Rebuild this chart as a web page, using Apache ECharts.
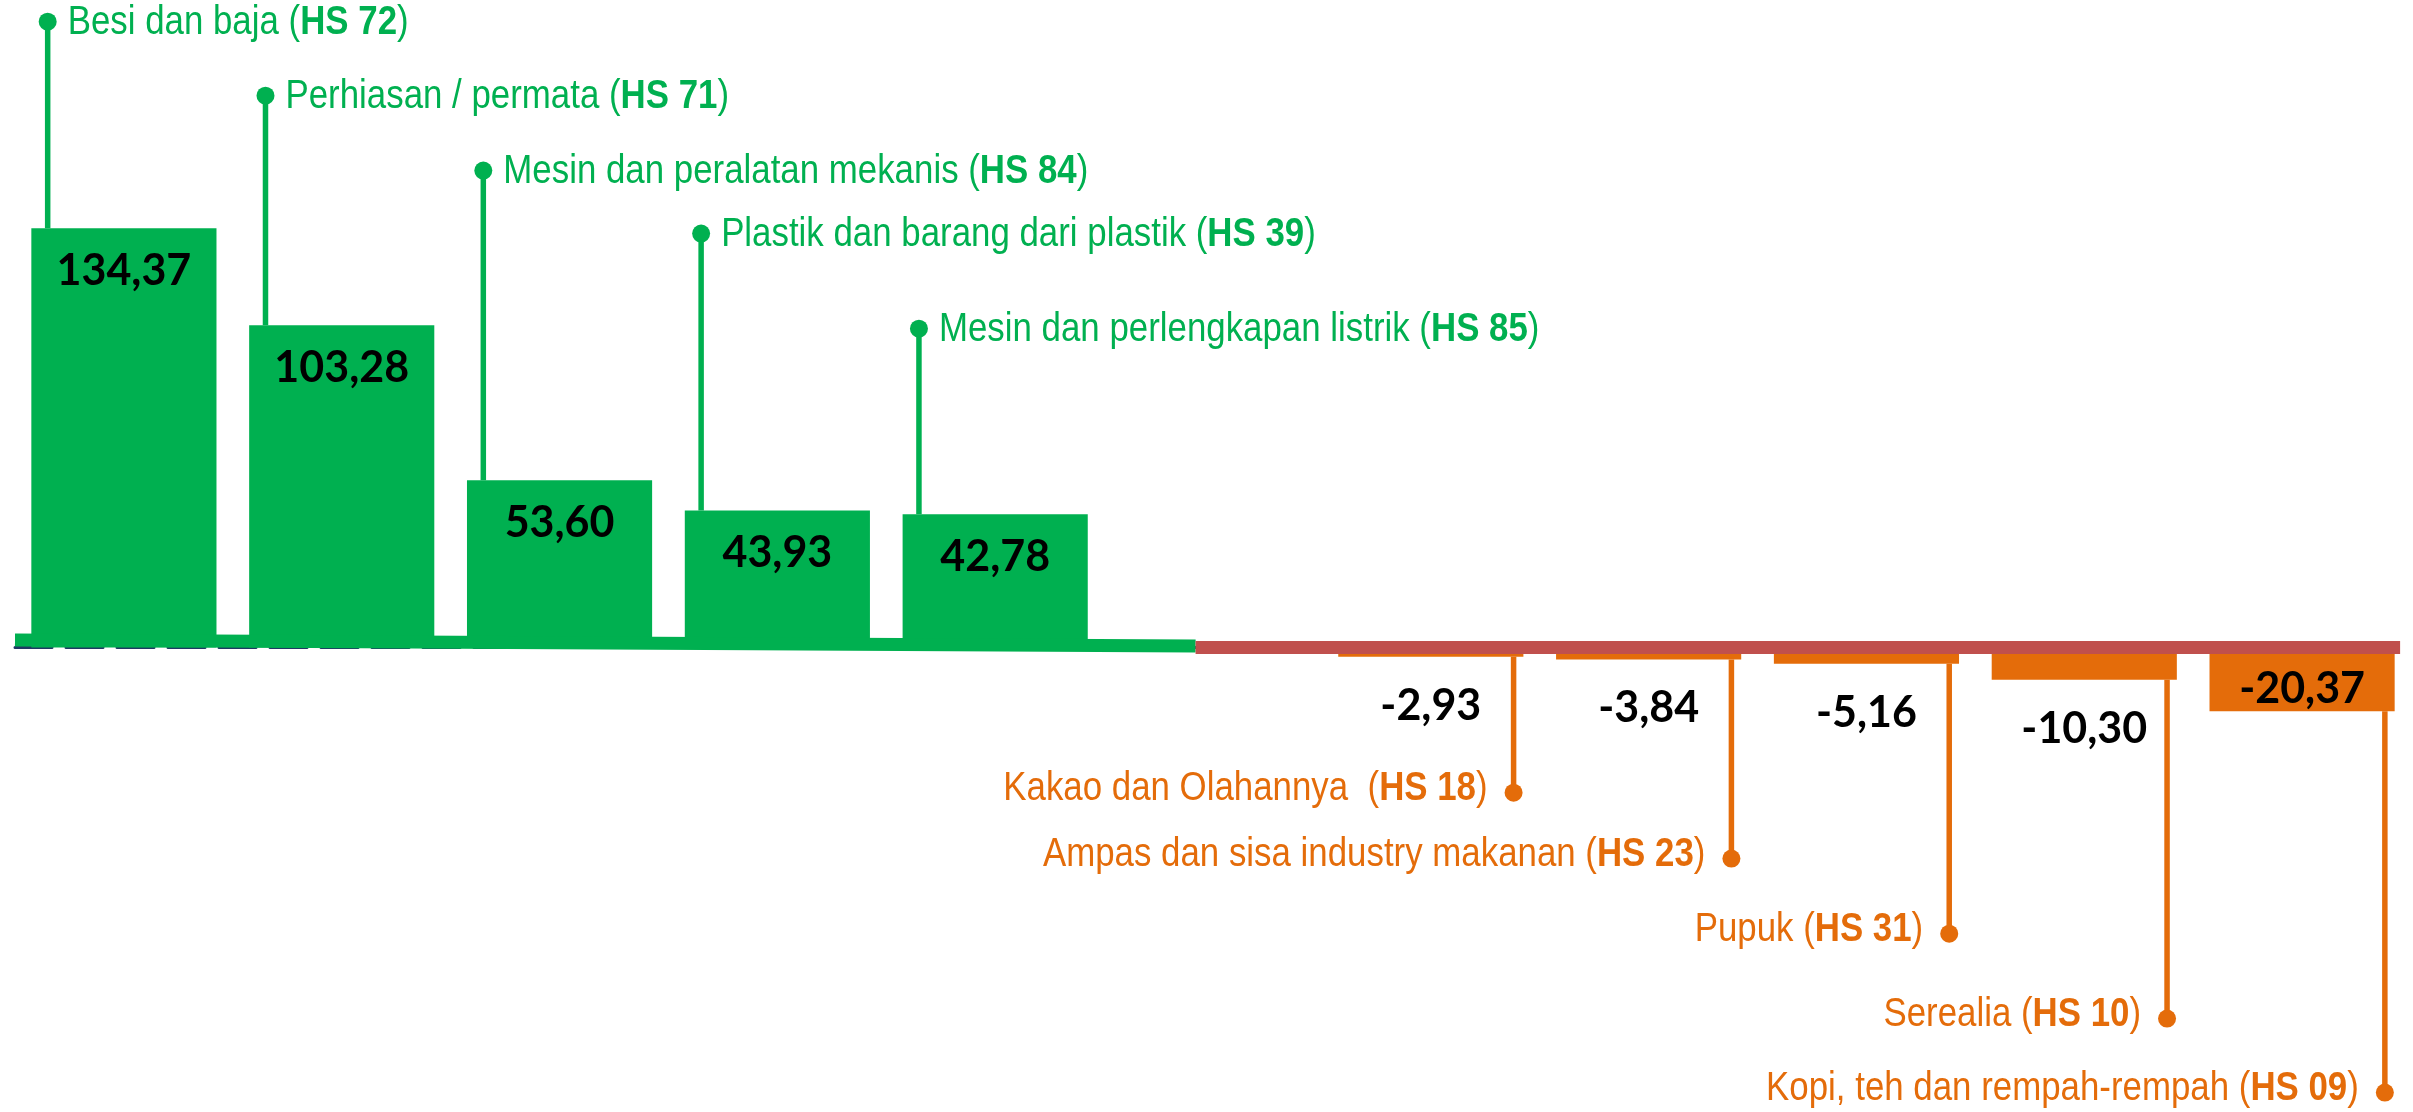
<!DOCTYPE html>
<html>
<head>
<meta charset="utf-8">
<script src="https://cdn.jsdelivr.net/npm/echarts@6/dist/echarts.min.js"></script>
<style>
  html, body { margin: 0; padding: 0; background: #fff; }
  #chart { width: 2413px; height: 1112px; }
</style>
</head>
<body>
<div id="chart"></div>
<script>
// komoditas (surplus hijau, defisit oranye), slot kosong di tengah
var names = ['Besi dan baja', 'Perhiasan / permata', 'Mesin dan peralatan mekanis',
  'Plastik dan barang dari plastik', 'Mesin dan perlengkapan listrik', '',
  'Kakao dan Olahannya ', 'Ampas dan sisa industry makanan', 'Pupuk', 'Serealia',
  'Kopi, teh dan rempah-rempah'];
var hsCodes = ['72', '71', '84', '39', '85', '', '18', '23', '31', '10', '09'];
var values = [134.37, 103.28, 53.60, 43.93, 42.78, null, -2.93, -3.84, -5.16, -10.30, -20.37];
// tinggi titik label (dalam satuan sumbu y)
var calloutLevel = [200.6, 176.9, 152.9, 132.7, 102.2, null, -46.5, -67.6, -91.7, -118.9, -142.6];
// garis dasar tebal hijau / merah
var baseGreen = [[-0.5, 2.4], [4.92, 0.5]];
var baseRed = [[4.92, 0], [10.45, 0]];

var GREEN = '#00B050';
var ORANGE = '#E46C0A';
var RED = '#C0504D';
// tidak ada Arial Narrow, jadi teks dipersempit dengan scaleX
var SANS = "'Liberation Sans', Arial, sans-serif";

var calloutData = [];
for (var i = 0; i < values.length; i++) {
  if (calloutLevel[i] == null) continue;
  calloutData.push([i, values[i], calloutLevel[i]]);
}

function fmt(v) {
  return v.toFixed(2).replace('.', ',');
}

var barData = values.map(function (v) {
  if (v == null || v >= 0) {
    return { value: v, label: { position: 'insideTop', distance: 21 } };
  }
  if (v < -15) {
    return { value: v, label: { position: 'insideBottom', distance: 0 } };
  }
  return { value: v, label: { position: 'bottom', distance: 27 } };
});

var chart = echarts.init(document.getElementById('chart'));

chart.setOption({
  animation: false,
  grid: { left: 15, right: 2, top: 8, height: 1092 },
  xAxis: [
    {
      type: 'category',
      data: hsCodes,
      axisLine: {
        onZero: true,
        lineStyle: { color: '#1F3864', width: 3, type: [37, 14] }
      },
      axisTick: { show: false },
      axisLabel: { show: false }
    },
    { type: 'value', min: -0.5, max: 10.5, show: false }
  ],
  yAxis: {
    type: 'value',
    min: -145,
    max: 205,
    show: false,
    splitLine: { show: false }
  },
  series: [
    {
      type: 'bar',
      data: barData,
      barCategoryGap: '15%',
      z: 2,
      itemStyle: {
        color: function (p) { return p.value >= 0 ? GREEN : ORANGE; }
      },
      label: {
        show: true,
        fontFamily: 'Lato',
        fontWeight: 'bold',
        fontSize: 43,
        lineHeight: 44,
        color: '#000',
        formatter: function (p) { return p.value == null ? '' : fmt(p.value); }
      }
    },
    {
      type: 'line',
      xAxisIndex: 1,
      data: baseGreen,
      symbol: 'none',
      silent: true,
      z: 3,
      lineStyle: { color: GREEN, width: 13, cap: 'butt' }
    },
    {
      type: 'line',
      xAxisIndex: 1,
      data: baseRed,
      symbol: 'none',
      silent: true,
      z: 3,
      lineStyle: { color: RED, width: 13, cap: 'butt' }
    },
    {
      type: 'custom',
      xAxisIndex: 1,
      data: calloutData,
      encode: { x: 0, y: 2 },
      z: 4,
      silent: true,
      renderItem: function (params, api) {
        var idx = api.value(0);
        var barVal = api.value(1);
        var lvl = api.value(2);
        var up = lvl > 0;
        var x = idx + (up ? -0.35 : 0.38);
        var p0 = api.coord([x, barVal]);
        var p1 = api.coord([x, lvl]);
        var col = up ? GREEN : ORANGE;
        var txt = '{n|' + names[idx] + ' (}{b|HS ' + hsCodes[idx] + '}{n|)}';
        return {
          type: 'group',
          children: [
            {
              type: 'line',
              shape: { x1: p0[0], y1: p0[1], x2: p1[0], y2: p1[1] },
              style: { stroke: col, lineWidth: 5.5 }
            },
            {
              type: 'circle',
              shape: { cx: p1[0], cy: p1[1], r: 9 },
              style: { fill: col }
            },
            {
              type: 'text',
              x: up ? p1[0] + 20 : p1[0] - 26,
              y: up ? p1[1] + 1 : p1[1] - 4,
              scaleX: 0.85,
              style: {
                text: txt,
                align: up ? 'left' : 'right',
                verticalAlign: 'middle',
                fill: col,
                rich: {
                  n: { fontFamily: SANS, fontSize: 41, fill: col },
                  b: { fontFamily: SANS, fontSize: 41, fontWeight: 'bold', fill: col }
                }
              }
            }
          ]
        };
      }
    }
  ]
});
</script>
</body>
</html>
